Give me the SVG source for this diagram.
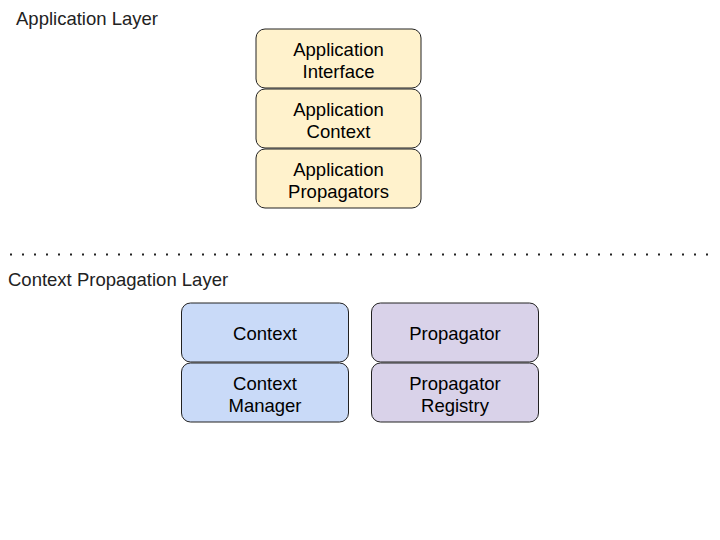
<svg xmlns="http://www.w3.org/2000/svg" width="720" height="540" viewBox="0 0 720 540">
<style>
.lbl{font-family:"Liberation Sans",Arial,sans-serif;font-size:18.5px;fill:#222}
.t{font-family:"Liberation Sans",Arial,sans-serif;font-size:18.5px;fill:#000;text-anchor:middle}
.box{stroke:#222;stroke-width:1}
.y{fill:#fff2cc}.b{fill:#c9daf8}.p{fill:#d9d2e9}
</style>
<rect width="720" height="540" fill="#fff"/>
<text class="lbl" x="16" y="25">Application Layer</text>
<text class="lbl" x="8" y="286">Context Propagation Layer</text>
<g id="connectors">
<line x1="0" y1="254.5" x2="712" y2="254.5" stroke="#222" stroke-width="2" stroke-dasharray="2,10" stroke-dashoffset="2"/>
</g>
<g id="app-interface"><rect class="box y" x="256" y="29" width="165" height="59" rx="9"/><text class="t" x="338.5" y="56">Application</text><text class="t" x="338.5" y="78">Interface</text></g>
<g id="app-context"><rect class="box y" x="256" y="89" width="165" height="59" rx="9"/><text class="t" x="338.5" y="116">Application</text><text class="t" x="338.5" y="138">Context</text></g>
<g id="app-propagators"><rect class="box y" x="256" y="149" width="165" height="59" rx="9"/><text class="t" x="338.5" y="176">Application</text><text class="t" x="338.5" y="198">Propagators</text></g>
<g id="context"><rect class="box b" x="181.5" y="303" width="167" height="59" rx="9"/><text class="t" x="265" y="340">Context</text></g>
<g id="context-manager"><rect class="box b" x="181.5" y="363" width="167" height="59" rx="9"/><text class="t" x="265" y="390">Context</text><text class="t" x="265" y="412">Manager</text></g>
<g id="propagator"><rect class="box p" x="371.5" y="303" width="167" height="59" rx="9"/><text class="t" x="455" y="340">Propagator</text></g>
<g id="propagator-registry"><rect class="box p" x="371.5" y="363" width="167" height="59" rx="9"/><text class="t" x="455" y="390">Propagator</text><text class="t" x="455" y="412">Registry</text></g>
</svg>
